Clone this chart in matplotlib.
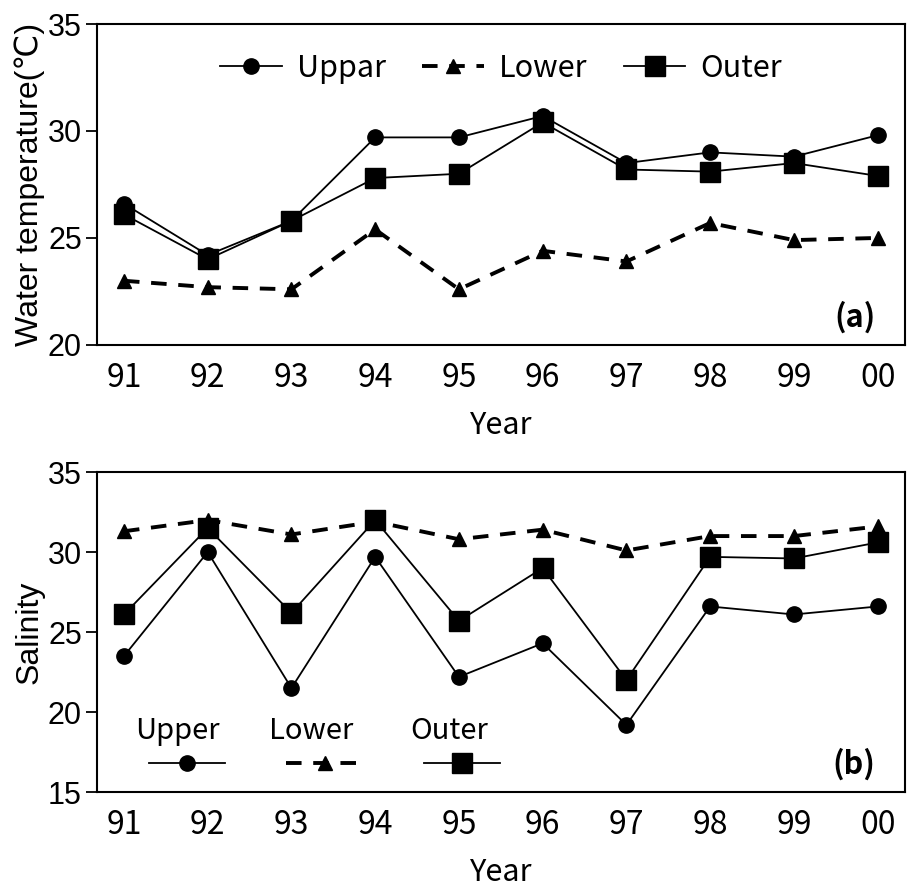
import matplotlib
matplotlib.use("Agg")
import matplotlib.pyplot as plt
from matplotlib.lines import Line2D

years = ['91', '92', '93', '94', '95', '96', '97', '98', '99', '00']

# (a) water temperature
temp_upper = [26.6, 24.2, 25.8, 29.7, 29.7, 30.7, 28.5, 29.0, 28.8, 29.8]
temp_lower = [23.0, 22.7, 22.6, 25.4, 22.6, 24.4, 23.9, 25.7, 24.9, 25.0]
temp_outer = [26.1, 24.0, 25.8, 27.8, 28.0, 30.4, 28.2, 28.1, 28.5, 27.9]

# (b) salinity
sal_upper = [23.5, 30.0, 21.5, 29.7, 22.2, 24.3, 19.2, 26.6, 26.1, 26.6]
sal_lower = [31.3, 32.0, 31.1, 31.9, 30.8, 31.4, 30.1, 31.0, 31.0, 31.6]
sal_outer = [26.1, 31.5, 26.2, 32.0, 25.7, 29.0, 22.0, 29.7, 29.6, 30.6]

jp = ['Noto Sans CJK JP', 'DejaVu Sans']
ar = ['Liberation Sans', 'DejaVu Sans']

x = list(range(len(years)))

fig = plt.figure(figsize=(9.08, 8.89), dpi=100)
ax1 = fig.add_axes([0.107, 0.612, 0.89, 0.361])
ax2 = fig.add_axes([0.107, 0.109, 0.89, 0.360])

up_kw = dict(color='black', lw=1.3, marker='o', markersize=11)
lo_kw = dict(color='black', lw=2.8, linestyle=(0, (4, 3)), marker='^', markersize=10)
ou_kw = dict(color='black', lw=1.3, marker='s', markersize=15)


def style(ax, lo, hi):
    ax.set_xlim(-0.32, 9.33)
    ax.set_ylim(lo, hi)
    ax.set_xticks(x)
    ax.set_xticklabels(years, fontfamily=jp, fontsize=23)
    ticks = list(range(lo, hi + 1, 5))
    ax.set_yticks(ticks)
    ax.set_yticklabels([str(t) for t in ticks], fontfamily=ar, fontsize=22)
    ax.tick_params(axis='x', length=0, pad=12)
    ax.tick_params(axis='y', direction='out', length=8, width=1.3, pad=3)
    for s in ax.spines.values():
        s.set_linewidth(1.5)
    ax.set_xlabel('Year', fontfamily=jp, fontsize=22, labelpad=12)


ax1.plot(x, temp_upper, label='Uppar', **up_kw)
ax1.plot(x, temp_lower, label='Lower', **lo_kw)
ax1.plot(x, temp_outer, label='Outer', **ou_kw)
style(ax1, 20, 35)
ax1.set_ylabel('Water temperature(℃)', fontfamily=ar, fontsize=23, labelpad=2)
ax1.legend(loc='upper center', bbox_to_anchor=(0.5, 0.995), ncol=3, frameon=False,
           prop={'family': jp, 'size': 22}, handlelength=2.0, handletextpad=0.5,
           columnspacing=1.2)
ax1.text(0.963, 0.035, '(a)', transform=ax1.transAxes, ha='right', va='bottom',
         fontfamily=jp, fontsize=22, fontweight='bold')

ax2.plot(x, sal_upper, **up_kw)
ax2.plot(x, sal_lower, **lo_kw)
ax2.plot(x, sal_outer, **ou_kw)
style(ax2, 15, 35)
ax2.set_ylabel('Salinity', fontfamily=ar, fontsize=23, labelpad=2)

# legend of (b): names above the line keys
names = ['Upper', 'Lower', 'Outer']
keys = [Line2D([], [], **up_kw), Line2D([], [], **lo_kw), Line2D([], [], **ou_kw)]
ax2.legend(keys, ['', '', ''], loc='center left', bbox_to_anchor=(0.03, 0.085), ncol=3,
           frameon=False, prop={'size': 22}, handlelength=2.5, handletextpad=0.0,
           columnspacing=2.0)
for name, fx in zip(names, [0.099, 0.265, 0.436]):
    ax2.text(fx, 0.19, name, transform=ax2.transAxes, ha='center', va='center',
             fontfamily=jp, fontsize=21)
ax2.text(0.963, 0.035, '(b)', transform=ax2.transAxes, ha='right', va='bottom',
         fontfamily=jp, fontsize=22, fontweight='bold')

fig.savefig('out.png', dpi=100)
